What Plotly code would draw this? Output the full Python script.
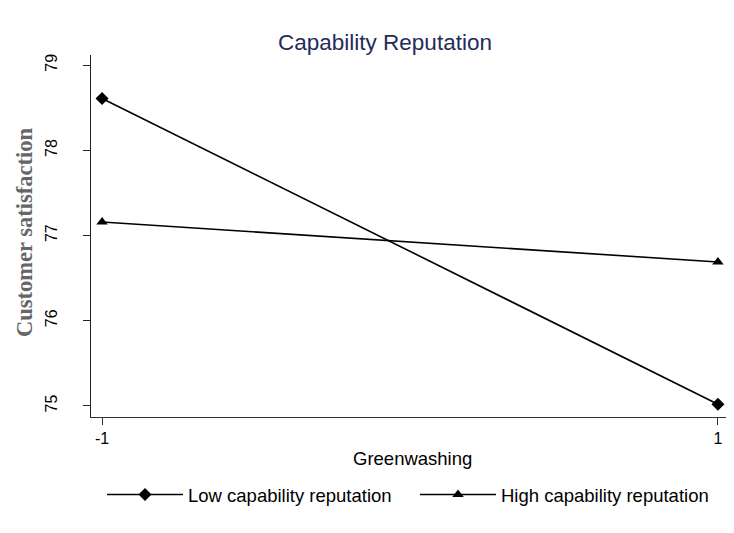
import plotly.graph_objects as go

greenwashing = [-1, 1]
low_rep = [78.61, 75.02]
high_rep = [77.16, 76.69]
series_names = ["Low capability reputation", "High capability reputation"]
y_ticks = [75, 76, 77, 78, 79]
x_ticks = [-1, 1]

# page body has an 8px margin; compensate so the figure lands in the 734x533 window
OFF = 8
W, H = 734 - OFF, 533 - OFF
L = 91 - OFF          # y-axis line
R = W - (729 - OFF)   # right end of plot area
T = 55 - OFF          # top of plot area
BOT = 417 - OFF       # x-axis line
B = H - BOT
pw, ph = W - L - R, H - T - B


def px_x(xp):
    return (xp - OFF - L) / pw


def px_y(yp):
    return (BOT - (yp - OFF)) / ph


fig = go.Figure()
fig.add_trace(go.Scatter(x=greenwashing, y=low_rep, mode="lines+markers", name=series_names[0],
                         line=dict(color="black", width=1.6),
                         marker=dict(symbol="diamond", size=10, color="black")))
fig.add_trace(go.Scatter(x=greenwashing, y=high_rep, mode="lines+markers", name=series_names[1],
                         line=dict(color="black", width=1.6),
                         marker=dict(symbol="triangle-up", size=10, color="black")))

fig.update_layout(
    width=W, height=H,
    paper_bgcolor="white", plot_bgcolor="white",
    margin=dict(l=L, r=R, t=T, b=B, autoexpand=False),
    font=dict(family="Liberation Sans, Arial", size=16, color="black"),
    title=dict(text="Capability Reputation", x=(385 - OFF) / W, xanchor="center",
               y=1 - (42 - OFF) / H, yanchor="middle", yref="container",
               font=dict(family="Liberation Sans, Arial", size=22.5, color="#1f2d5a")),
    showlegend=True,
    legend=dict(orientation="h", x=px_x(102), xanchor="left", y=px_y(495), yanchor="middle",
                font=dict(size=18.5), itemwidth=76, entrywidth=222, traceorder="normal"),
)
fig.update_xaxes(range=[-1.036, 1.036], tickvals=x_ticks, ticktext=["-1", "1"],
                 showline=True, linecolor="#333333", linewidth=1, mirror=False, automargin=False,
                 ticks="outside", ticklen=7, tickcolor="#333333", showgrid=False, zeroline=False,
                 tickfont=dict(size=16))
fig.update_yaxes(range=[74.87, 79.12], tickvals=y_ticks,
                 showline=True, linecolor="#222222", linewidth=1, automargin=False,
                 ticks="outside", ticklen=7, tickcolor="#222222", showgrid=False, zeroline=False,
                 tickangle=-90, tickfont=dict(size=16), ticklabelstandoff=20)

fig.add_annotation(text="Greenwashing", xref="paper", yref="paper", x=px_x(412), y=px_y(458),
                   xanchor="center", yanchor="middle", showarrow=False,
                   font=dict(family="Liberation Sans, Arial", size=18.5, color="black"))
fig.add_annotation(text="<b>Customer satisfaction</b>", xref="paper", yref="paper",
                   x=px_x(24), y=px_y(233), xanchor="center", yanchor="middle",
                   textangle=-90, showarrow=False,
                   font=dict(family="Liberation Serif, Times New Roman", size=22.5, color="#666666"))

fig.write_html("out.html")
